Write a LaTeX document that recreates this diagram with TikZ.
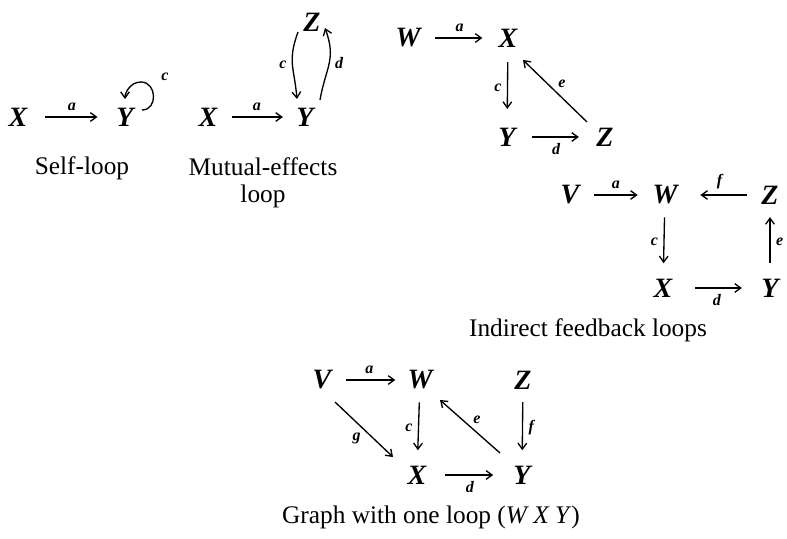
\documentclass[tikz,border=0pt]{standalone}
\usepackage{fontspec}
\setmainfont{Liberation Serif}
\usetikzlibrary{arrows.meta,calc}
\begin{document}
\begin{tikzpicture}[x=0.75pt,y=-0.75pt,
  v/.style={font=\fontsize{21}{22}\selectfont\bfseries\itshape, inner sep=0pt},
  lb/.style={font=\fontsize{12}{13}\selectfont\bfseries\itshape, inner sep=1pt},
  captxt/.style={font=\fontsize{19}{20.5}\selectfont, align=center, inner sep=0pt},
  tip/.style={line width=1pt, -{Straight Barb[length=4.5pt,width=6.5pt]}},
  ar/.style={tip, shorten <=11pt, shorten >=11pt}]
\useasboundingbox (0,0) rectangle (787,538);

% Self-loop
\node[v] (X1) at (18,117) {X};
\node[v] (Y1) at (125,117) {Y};
\draw[ar, shorten <=13pt, shorten >=14pt] (X1) -- node[lb, above=3pt] {a} (Y1);
\draw[tip] ($(Y1)+(17,-7)$) .. controls +(16,0) and +(16,0) .. ($(Y1)+(16,-35)$)
  .. controls +(-11,0) and +(0,-6) .. ($(Y1)+(0,-18)$);
\node[lb] (c1) at (165,77) {c};
\node[captxt] (t1) at (82,168) {Self-loop};

% Mutual-effects loop
\node[v] (X2) at (208,117) {X};
\node[v] (Y2) at (305,117) {Y};
\node[v] (Z2) at (312,22) {Z};
\draw[ar, shorten >=10pt] (X2) -- node[lb, above=3pt] {a} (Y2);
\draw[tip] ($(Z2)+(-14,10)$) to[out=250,in=95,looseness=1.2] node[lb, left=3pt] {c} ($(Y2)+(-8,-18)$);
\draw[tip] ($(Y2)+(15,-17)$) to[out=80,in=290,looseness=1.2] node[lb, right=3pt] {d} ($(Z2)+(13,6)$);
\node[captxt] (t2) at (263,183) {Mutual-effects\\loop};

% Triangle loop
\node[v] (W3) at (408,38) {W};
\node[v] (X3) at (508,38) {X};
\node[v] (Y3) at (507,137) {Y};
\node[v] (Z3) at (605,137) {Z};
\draw[ar, shorten >=12pt] (W3) -- node[lb, above=3pt] {a} (X3);
\draw[ar, shorten >=14pt] (X3) -- node[lb, left=3pt] {c} (Y3);
\draw[ar, shorten <=12pt, shorten >=13pt] (Y3) -- node[lb, below=3pt] {d} (Z3);
\draw[tip] ($(Z3)+(-18,-15)$) -- node[lb, above right=1pt] {e} ($(X3)+(15,22)$);

% Indirect feedback loops
\node[v] (V4) at (570,195) {V};
\node[v] (W4) at (665,195) {W};
\node[v] (Z4) at (770,195) {Z};
\node[v] (X4) at (663,288) {X};
\node[v] (Y4) at (770,288) {Y};
\draw[ar, shorten <=10.5pt] (V4) -- node[lb, above=3pt] {a} (W4);
\draw[ar, shorten >=17pt] (Z4) -- node[lb, above=3pt] {f} (W4);
\draw[ar, shorten <=9.5pt, shorten >=11.5pt] (W4) -- node[lb, left=3pt] {c} (X4);
\draw[ar, shorten <=11.5pt, shorten >=9.5pt] (Y4) -- node[lb, right=3pt] {e} (Z4);
\draw[ar, shorten <=17pt, shorten >=14.5pt] (X4) -- node[lb, below=3pt] {d} (Y4);
\node[captxt] (t3) at (588,330) {Indirect feedback loops};

% Graph with one loop
\node[v] (V5) at (322,380) {V};
\node[v] (W5) at (420,380) {W};
\node[v] (Z5) at (523,380) {Z};
\node[v] (X5) at (417,475) {X};
\node[v] (Y5) at (522,475) {Y};
\draw[ar, shorten >=9pt] (V5) -- node[lb, above=3pt] {a} (W5);
\draw[ar, shorten <=9.5pt, shorten >=11.5pt] (W5) -- node[lb, left=3pt] {c} (X5);
\draw[ar, shorten <=9.5pt, shorten >=11.5pt] (Z5) -- node[lb, right=3pt] {f} (Y5);
\draw[ar, shorten <=14pt, shorten >=15pt] (X5) -- node[lb, below=3pt] {d} (Y5);
\draw[tip] ($(V5)+(13,22)$) -- node[lb, below left=1pt] {g} ($(X5)+(-24,-18)$);
\draw[tip] ($(Y5)+(-22,-22)$) -- node[lb, above right=1pt] {e} ($(W5)+(20,20)$);
\node[captxt] (t4) at (431,517) {Graph with one loop (\textit{W X Y})};
\end{tikzpicture}
\end{document}
